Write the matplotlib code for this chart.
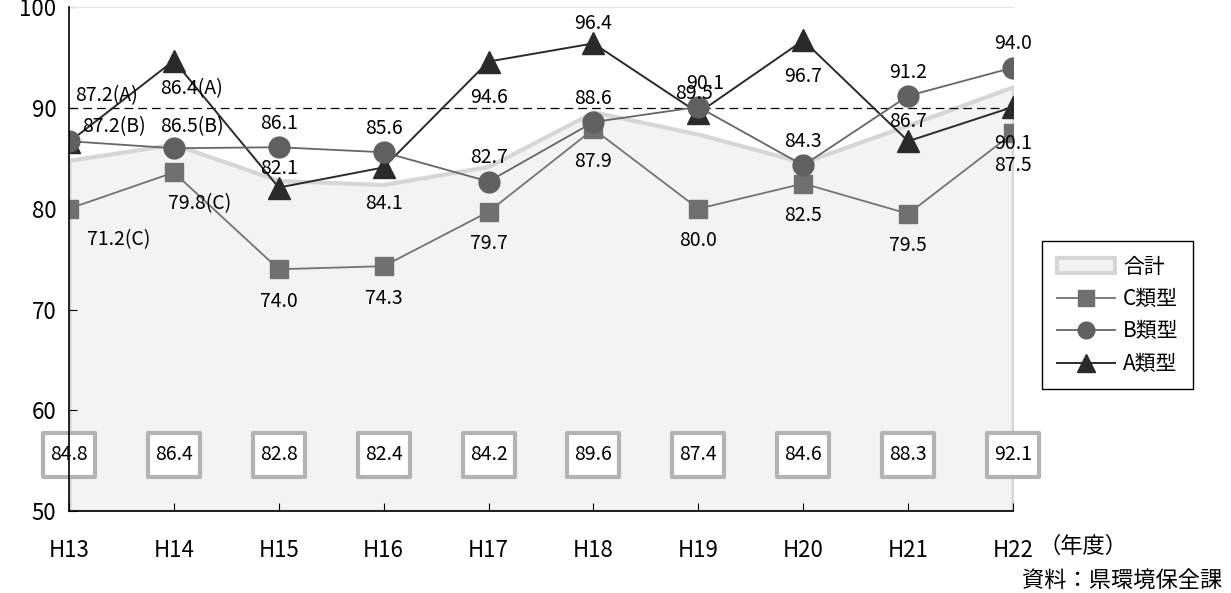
import matplotlib
matplotlib.use("Agg")
import matplotlib.pyplot as plt
from matplotlib.patches import Patch
from matplotlib.lines import Line2D
from matplotlib.path import Path
import numpy as np

plt.rcParams['font.family'] = ['Noto Sans CJK JP', 'DejaVu Sans']

years = ["H13", "H14", "H15", "H16", "H17", "H18", "H19", "H20", "H21", "H22"]
total = [84.8, 86.4, 82.8, 82.4, 84.2, 89.6, 87.4, 84.6, 88.3, 92.1]
type_c = [80.0, 83.6, 74.0, 74.3, 79.7, 87.9, 80.0, 82.5, 79.5, 87.5]
type_b = [86.7, 86.0, 86.1, 85.6, 82.7, 88.6, 90.1, 84.3, 91.2, 94.0]
type_a = [86.6, 94.7, 82.1, 84.1, 94.6, 96.4, 89.5, 96.7, 86.7, 90.1]

# H13/H14 notes (older survey values, written beside the marks)
notes = ["87.2(A)", "86.4(A)", "87.2(B)", "86.5(B)", "79.8(C)", "71.2(C)"]
note_xy = [(0.36, 91.2), (1.17, 91.9), (0.43, 88.1), (1.17, 88.1), (1.25, 80.5), (0.47, 76.9)]

# where each value label sits relative to its mark (first two years use notes)
pos_a = [None, None, 'up', 'down', 'down', 'up', 'up', 'down', 'up', 'down']
pos_b = [None, None, 'up', 'up', 'up', 'up', 'up', 'up', 'up', 'up']
pos_c = [None, None, 'down', 'down', 'down', 'down', 'down', 'down', 'down', 'down']

x = np.arange(len(years))

fig = plt.figure(figsize=(12.31, 5.93), dpi=100)
ax = fig.add_axes([0.056, 0.138, 0.767, 0.850])

ax.fill_between(x, total, 50, facecolor='#f3f3f3', edgecolor='#d6d6d6', lw=3, zorder=1)
ax.axhline(90, color='black', lw=0.9, ls=(0, (7, 4)), zorder=2)

ax.plot(x, type_c, color='#737373', lw=1.3, marker='s', ms=12.5, mfc='#707070', mec='#707070', zorder=3)
ax.plot(x, type_a, color='#2a2a2a', lw=1.4, marker='^', ms=16, mfc='#2a2a2a', mec='#2a2a2a', zorder=4)
ax.plot(x, type_b, color='#666666', lw=1.3, marker='o', ms=15, mfc='#606060', mec='#606060', zorder=5)

def put_labels(vals, where, up, down, dx=None):
    for i, (v, w) in enumerate(zip(vals, where)):
        if w is None:
            continue
        dy = up if w == 'up' else -down
        sx = 0 if dx is None else dx[i]
        ax.annotate(f"{v:.1f}", (i, v), xytext=(sx, dy), textcoords='offset points',
                    ha='center', va='center', fontsize=14, zorder=6)

# small sideways nudges where labels crowd each other
shift_a = [0, 0, 0, 0, 0, 0, -3, 0, 0, 0]
shift_b = [0, 0, 0, 0, 0, 0, 5, 0, 0, 0]
put_labels(type_a, pos_a, 14, 26, shift_a)
put_labels(type_b, pos_b, 17, 0, shift_b)
put_labels(type_c, pos_c, 0, 23)

for t, (nx, ny) in zip(notes, note_xy):
    ax.text(nx, ny, t, ha='center', va='center', fontsize=14, zorder=6)

# boxed totals along the bottom
rect = Path([(-1, -0.87), (1, -0.87), (1, 0.87), (-1, 0.87), (-1, -0.87)],
            [Path.MOVETO, Path.LINETO, Path.LINETO, Path.LINETO, Path.CLOSEPOLY])
ax.plot(x, np.full(len(x), 55.6), ls='none', marker=rect, ms=37, mfc='white',
        mec='#b3b3b3', mew=3, zorder=7, clip_on=False)
for i, v in enumerate(total):
    ax.text(i, 55.6, f"{v:.1f}", ha='center', va='center', fontsize=14, zorder=8)

ax.set_xlim(0, 9)
ax.set_ylim(50, 100)
ax.set_yticks([50, 60, 70, 80, 90, 100])
ax.set_xticks(x)
ax.set_xticklabels(years)
ax.tick_params(axis='both', direction='in', labelsize=16, length=6)
ax.tick_params(axis='x', pad=20)
ax.tick_params(axis='y', pad=9)
ax.spines['right'].set_visible(False)
ax.spines['top'].set_color('#e4e4e4')
for s in ('left', 'bottom'):
    ax.spines[s].set_linewidth(1.2)
    ax.spines[s].set_zorder(9)

fig.text(1038 / 1231, 1 - 546 / 593, "（年度）", fontsize=16, ha='left', va='center')
fig.text(1222 / 1231, 1 - 580 / 593, "資料：県環境保全課", fontsize=16, ha='right', va='center')

handles = [
    Patch(facecolor='#f3f3f3', edgecolor='#d6d6d6', lw=3, label='合計'),
    Line2D([], [], color='#737373', lw=1.3, marker='s', ms=11, mfc='#707070', mec='#707070', label='C類型'),
    Line2D([], [], color='#666666', lw=1.3, marker='o', ms=12, mfc='#606060', mec='#606060', label='B類型'),
    Line2D([], [], color='#2a2a2a', lw=1.4, marker='^', ms=13, mfc='#2a2a2a', mec='#2a2a2a', label='A類型'),
]
leg = fig.legend(handles=handles, loc='upper left', bbox_to_anchor=(1042 / 1231, 1 - 241 / 593),
                 borderaxespad=0, fancybox=False, edgecolor='black', fontsize=15, handlelength=2.8,
                 handletextpad=0.4, labelspacing=0.5, borderpad=0.7, framealpha=1)
leg.get_frame().set_linewidth(1.0)

plt.savefig("out.png", dpi=100)
